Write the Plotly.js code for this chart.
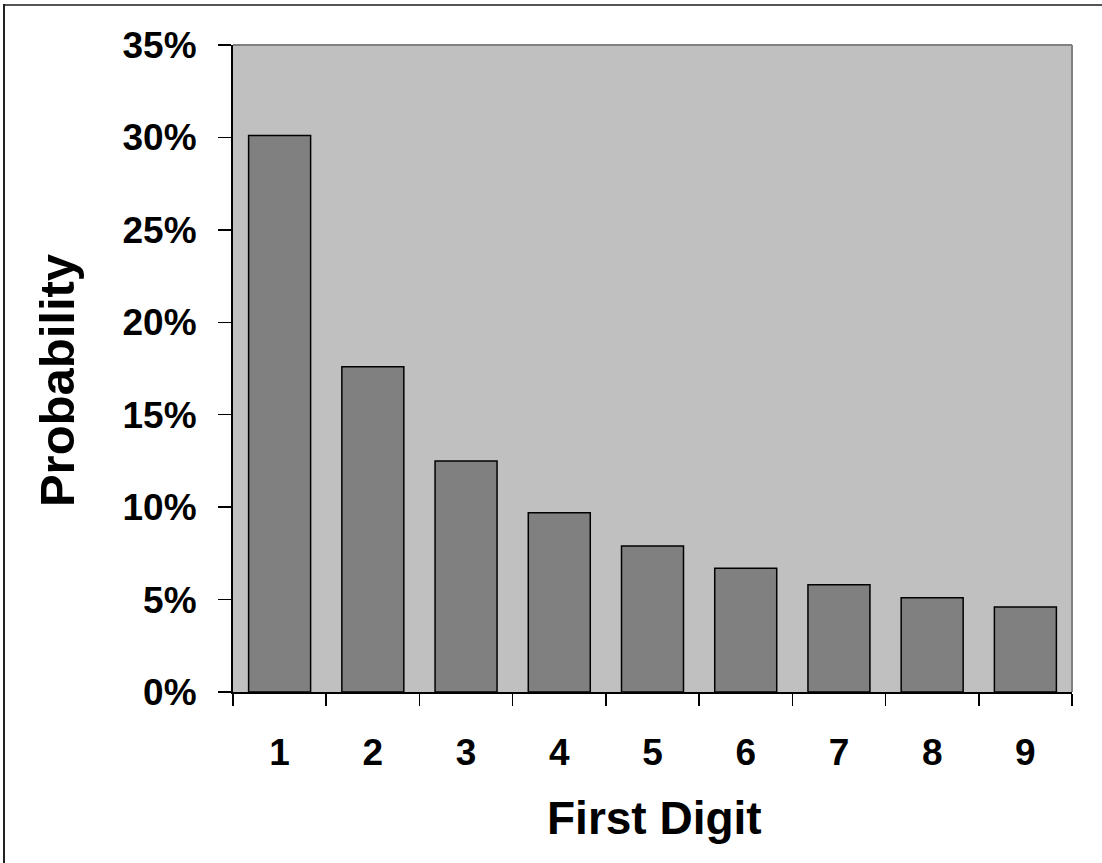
<!DOCTYPE html>
<html>
<head>
<meta charset="utf-8">
<script src="https://cdn.plot.ly/plotly-3.0.1.min.js"></script>
<style>
  html, body { margin: 0; padding: 0; background: #ffffff; }
  #wrap { position: relative; width: 1102px; height: 863px; overflow: hidden; }
  #chart { position: absolute; left: 0; top: 0; width: 1102px; height: 863px; }
  #frameTop { position: absolute; left: 3px; top: 4px; width: 1099px; height: 2px; background: #555555; }
  #frameLeft { position: absolute; left: 3px; top: 4px; width: 2px; height: 859px; background: #222222; }
</style>
</head>
<body>
<div id="wrap">
  <div id="chart"></div>
  <div id="frameTop"></div>
  <div id="frameLeft"></div>
</div>
<script>
const categories = ["1", "2", "3", "4", "5", "6", "7", "8", "9"];
const probabilities = [30.1, 17.6, 12.5, 9.7, 7.9, 6.7, 5.8, 5.1, 4.6];
const xTitle = "First Digit";
const yTitle = "Probability";

const fontFamily = "'Liberation Sans', Arial, sans-serif";

const trace = {
  type: "bar",
  x: categories,
  y: probabilities,
  marker: { color: "#808080", line: { color: "#000000", width: 1.5 } },
  hoverinfo: "skip"
};

const layout = {
  width: 1102,
  height: 863,
  margin: { l: 233, r: 30, t: 45, b: 171 },
  paper_bgcolor: "rgba(0,0,0,0)",
  plot_bgcolor: "#c0c0c0",
  bargap: 0.335,
  showlegend: false,
  font: { family: fontFamily, color: "#000000" },
  xaxis: {
    type: "category",
    tickson: "boundaries",
    ticks: "outside",
    ticklen: 12,
    tickwidth: 1.5,
    tickcolor: "#000000",
    showline: true,
    linecolor: "#000000",
    linewidth: 2,
    showgrid: false,
    zeroline: false,
    ticklabelstandoff: 27,
    tickfont: { family: fontFamily, size: 37, weight: 700, color: "#000000" },
    automargin: false
  },
  yaxis: {
    range: [0, 35],
    dtick: 5,
    tick0: 0,
    ticksuffix: "%",
    ticks: "outside",
    ticklen: 13,
    tickwidth: 1.5,
    tickcolor: "#000000",
    showline: true,
    linecolor: "#000000",
    linewidth: 2,
    showgrid: false,
    zeroline: false,
    ticklabelstandoff: 14,
    tickfont: { family: fontFamily, size: 37, weight: 700, color: "#000000" },
    automargin: false
  },
  annotations: [
    { text: xTitle, xref: "paper", yref: "paper", x: 0.5018, y: -0.1947, xanchor: "center", yanchor: "middle",
      showarrow: false, font: { family: fontFamily, size: 46, weight: 700, color: "#000000" } },
    { text: yTitle, xref: "paper", yref: "paper", x: -0.2098, y: 0.482, xanchor: "center", yanchor: "middle",
      textangle: -90, showarrow: false, font: { family: fontFamily, size: 49, weight: 700, color: "#000000" } }
  ],
  shapes: [
    { type: "line", xref: "paper", yref: "paper", x0: 0, x1: 1, y0: 1, y1: 1, line: { color: "#808080", width: 2 } },
    { type: "line", xref: "paper", yref: "paper", x0: 1, x1: 1, y0: 0, y1: 1, line: { color: "#808080", width: 2 } }
  ]
};

Plotly.newPlot("chart", [trace], layout, { displayModeBar: false, staticPlot: true });
</script>
</body>
</html>
